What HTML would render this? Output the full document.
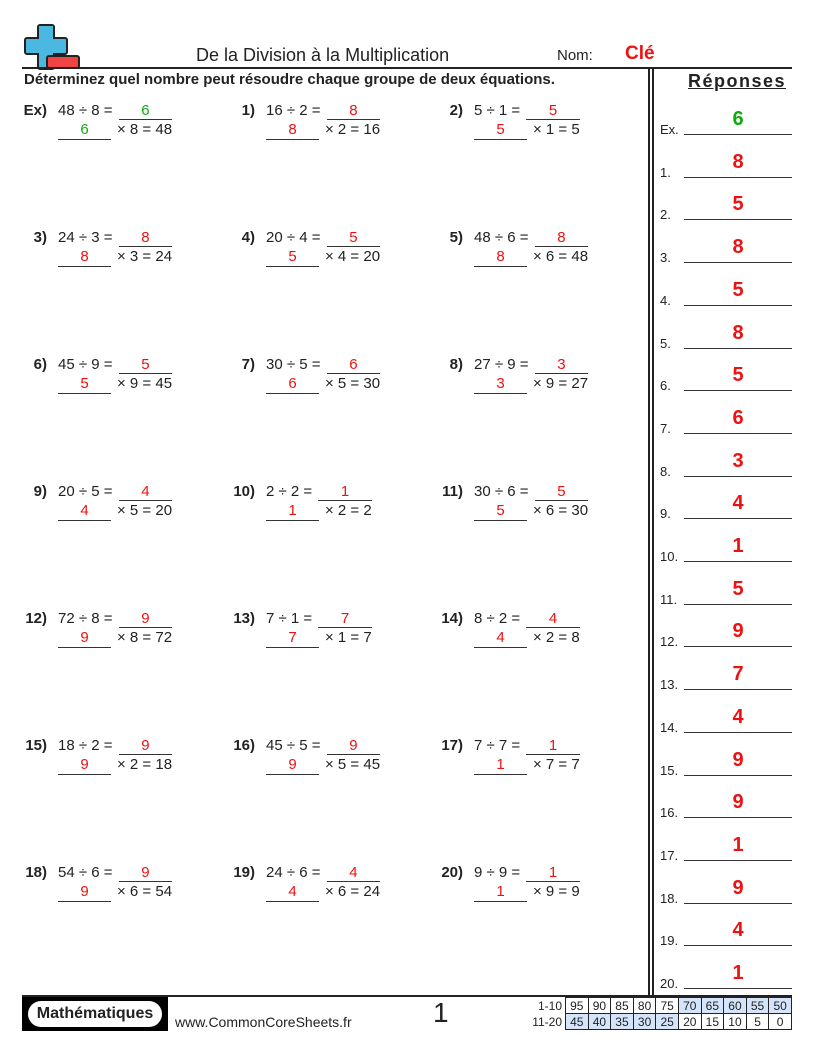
<!DOCTYPE html>
<html><head><meta charset="utf-8">
<style>
body{margin:0;background:#fff;font-family:"Liberation Sans",sans-serif;color:#222}
#pg{position:relative;width:816px;height:1056px;overflow:hidden}
.a{position:absolute}
.prob{position:absolute;font-size:15px;line-height:19px}
.lab{position:absolute;font-weight:bold;text-align:right;width:40px;top:0}
.box{position:absolute;top:0;display:inline-block}
.l1{display:flex;white-space:pre}
.l1 .b{flex:1;min-width:50px;border-bottom:1.5px solid #333;text-align:center;color:#e11;height:18px;margin-left:2px}
.l2{white-space:pre;display:flex}
.l2 .b{width:53px;border-bottom:1.5px solid #333;text-align:center;color:#e11;margin-right:6px;height:19px}
.g{color:#1a1 !important}
.ans{position:absolute;left:660px;width:132px;font-size:13px}
.ans .n{position:absolute;left:0;top:8px}
.ans .ln{position:absolute;left:24px;width:108px;top:20px;border-bottom:1.5px solid #333}
.ans .v{position:absolute;left:24px;width:108px;text-align:center;top:-6px;color:#e11;font-weight:bold;font-size:20px}
table{border-collapse:collapse;font-size:12px}
td{border:1px solid #222;padding:0;text-align:center;height:15px;width:21.6px}
td.h{background:#d4e4fa}
td.t{border:none;text-align:right;width:38px;padding-right:3px}
</style></head><body><div id="pg">
<!-- logo -->
<div class="a" style="left:37px;top:24px;width:14px;height:42px;background:#4ab8e0;border:2px solid #222;border-radius:3px"></div>
<div class="a" style="left:24px;top:37px;width:40px;height:14px;background:#4ab8e0;border:2px solid #222;border-radius:3px"></div>
<div class="a" style="left:39px;top:26px;width:14px;height:38px;background:#4ab8e0"></div>
<div class="a" style="left:46px;top:55px;width:30px;height:10px;background:#e44;border:2px solid #222;border-radius:3px"></div>
<div class="a" style="left:196px;top:45px;font-size:18px">De la Division à la Multiplication</div>
<div class="a" style="left:557px;top:47px;font-size:15px">Nom:</div>
<div class="a" style="left:625px;top:43px;font-size:19px;font-weight:bold;color:#e11">Clé</div>
<div class="a" style="left:22px;top:67px;width:770px;height:2px;background:#222"></div>
<div class="a" style="left:24px;top:71px;font-size:15px;font-weight:bold">Déterminez quel nombre peut résoudre chaque groupe de deux équations.</div>
<div class="a" style="left:648px;top:69px;width:2px;height:926px;background:#222"></div>
<div class="a" style="left:652px;top:69px;width:2px;height:926px;background:#222"></div>
<div class="a" style="left:688px;top:71px;font-size:18px;font-weight:bold;letter-spacing:1.5px;text-decoration:underline">Réponses</div>
<div class="a" style="left:22px;top:995px;width:770px;height:2px;background:#222"></div>
<div class="a" style="left:22px;top:997px;width:146px;height:34px;background:#000"></div>
<div class="a" style="left:28px;top:1001px;width:134px;height:26px;background:#fff;border-radius:13px;font-weight:bold;font-size:16px;line-height:26px;text-align:center">Mathématiques</div>
<div class="a" style="left:175px;top:1014px;font-size:14px">www.CommonCoreSheets.fr</div>
<div class="a" style="left:433px;top:997px;font-size:28px">1</div>
<div class="a" style="left:524px;top:997px"><table>
<tr><td class="t">1-10</td><td>95</td><td>90</td><td>85</td><td>80</td><td>75</td><td class="h">70</td><td class="h">65</td><td class="h">60</td><td class="h">55</td><td class="h">50</td></tr>
<tr><td class="t">11-20</td><td class="h">45</td><td class="h">40</td><td class="h">35</td><td class="h">30</td><td class="h">25</td><td>20</td><td>15</td><td>10</td><td>5</td><td>0</td></tr></table></div>
<div id="probs"></div><div id="ans"></div>
</div>
<script>
var P=[["Ex)",48,8,6],["1)",16,2,8],["2)",5,1,5],["3)",24,3,8],["4)",20,4,5],["5)",48,6,8],["6)",45,9,5],["7)",30,5,6],["8)",27,9,3],["9)",20,5,4],["10)",2,2,1],["11)",30,6,5],["12)",72,8,9],["13)",7,1,7],["14)",8,2,4],["15)",18,2,9],["16)",45,5,9],["17)",7,7,1],["18)",54,6,9],["19)",24,6,4],["20)",9,9,1]];
var h="";
P.forEach(function(p,i){var r=Math.floor(i/3),c=i%3;var x=7+c*208,y=101+r*127;var g=i==0?" g":"";
h+='<div class="prob" style="left:'+x+'px;top:'+y+'px"><div class="lab">'+p[0]+'</div><div class="box" style="left:51px"><div class="l1"><span>'+p[1]+' ÷ '+p[2]+' = </span><span class="b'+g+'">'+p[3]+'</span></div><div class="l2"><span class="b'+g+'">'+p[3]+'</span><span>× '+p[2]+' = '+p[1]+'</span></div></div></div>';});
document.getElementById("probs").innerHTML=h;
var a="";
P.forEach(function(p,i){var y=114+i*42.7;var n=i==0?"Ex.":i+".";
a+='<div class="ans" style="top:'+y+'px"><span class="n">'+n+'</span><span class="v" style="'+(i==0?'color:#1a1':'')+'">'+p[3]+'</span><span class="ln"></span></div>';});
document.getElementById("ans").innerHTML=a;
</script>
</body></html>
